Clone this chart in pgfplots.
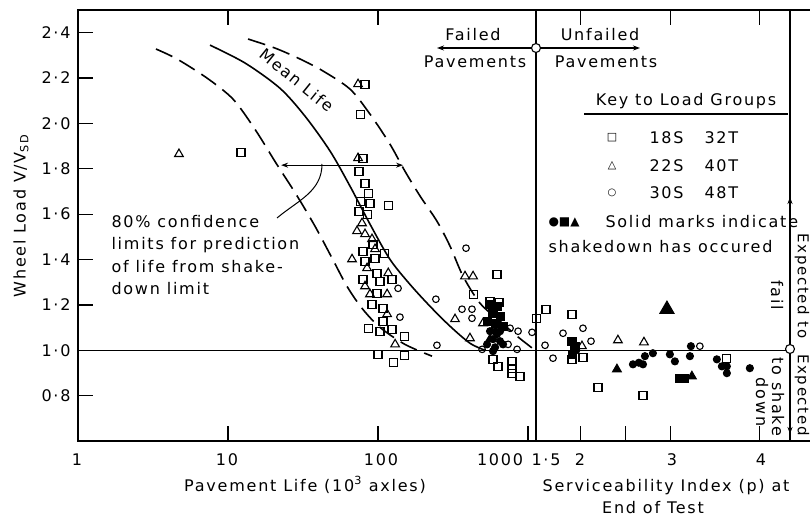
\documentclass[border=0pt]{standalone}
\usepackage{fontspec}
\setmainfont{DejaVu Sans}[LetterSpace=11]
\newfontfamily\symfont{DejaVu Sans}
\usepackage{pgfplots}
\pgfplotsset{compat=1.18}
\usetikzlibrary{arrows.meta}
\newcommand\fs{\fontsize{16bp}{19bp}\selectfont}
\newcommand\fa{\fontsize{16bp}{19bp}\selectfont}
\begin{document}
\begin{tikzpicture}[>={Stealth[length=7bp,width=5bp]}]
\useasboundingbox (0,0) rectangle (810bp,520bp);
\pgfplotsset{
  base/.style={scale only axis, anchor=south west, height=431bp, ymin=0.6, ymax=2.5,
    axis line style={line width=1.6bp}, tick align=inside, major tick length=15bp,
    tick style={line width=1.3bp, black}, clip=false},
  osq/.style={only marks, mark=square, mark size=4bp, mark options={line width=1.1bp}},
  otr/.style={only marks, mark=triangle, mark size=5bp, mark options={line width=1.1bp}},
  oci/.style={only marks, mark=o, mark size=3.3bp, mark options={line width=1.1bp}},
  fsq/.style={only marks, mark=square*, mark size=4bp, mark options={line width=1.1bp, fill=black}},
  ftr/.style={only marks, mark=triangle*, mark size=5bp, mark options={line width=1.1bp, fill=black}},
  fci/.style={only marks, mark=*, mark size=3.5bp, mark options={line width=1.1bp, fill=black}},
}
% ---------------- left axis: pavement life (log)
\begin{axis}[base, at={(78bp,79bp)}, width=458bp, xmode=log, xmin=1, xmax=1130,
  xtick={10,100,1000}, xticklabels={,,}, xminorticks=false, xtick pos=bottom,
  ytick={0.8,1,1.2,1.4,1.6,1.8,2,2.2,2.4},
  yticklabels={0·8,1·0,1·2,1·4,1·6,1·8,2·0,2·2,2·4},
  ytick pos=left, yticklabel style={font=\fs, xshift=-4bp}]
% shakedown limit
\addplot[line width=1bp, no marks] coordinates {(1,1) (1130,1)};
% 80% confidence limits and mean life
\addplot[smooth, line width=1.6bp, dash pattern=on 18bp off 8bp] coordinates {
(3.31,2.328)(4.57,2.284)(7.24,2.200)(10.8,2.107)(15.1,1.975)(20.9,1.825)(28.4,1.688)
(38.0,1.547)(49.4,1.406)(62.1,1.282)(78.2,1.185)(103,1.101)(151,1.026)(229,0.974)};
\addplot[smooth, line width=1.6bp] coordinates {
(7.59,2.345)(13.0,2.266)(22.2,2.155)(32.6,2.032)(47.9,1.878)(65.1,1.723)(88.4,1.556)
(120,1.401)(163,1.291)(222,1.194)(302,1.106)(410,1.031)(517,1.0)};
\addplot[smooth, line width=1.6bp, dash pattern=on 18bp off 8bp] coordinates {
(13.6,2.372)(20.6,2.332)(30.2,2.284)(43.0,2.231)(65.1,2.151)(88.4,2.041)(120,1.909)
(151,1.790)(191,1.679)(247,1.569)(302,1.459)(369,1.326)(479,1.207)(651,1.128)(845,1.062)(1113,1.0)};
% 18S 32T
\addplot[osq] coordinates {
(12.2,1.873)(81.9,2.173)(75.9,2.041)(79.4,1.847)(74.7,1.790)(81.9,1.737)(85.8,1.693)
(75.9,1.657)(88.4,1.648)(74.7,1.613)(84.5,1.600)(118,1.640)(92.6,1.468)(111,1.428)
(79.4,1.437)(81.9,1.393)(95.5,1.406)(98.5,1.340)(79.4,1.313)(103,1.304)(124,1.313)
(98.5,1.251)(91.2,1.203)(108,1.185)(85.8,1.097)(103,1.084)(124,1.093)(151,1.062)
(100,0.982)(126,0.947)(151,0.978)(430,1.247)(621,1.335)(584,0.960)(631,0.929)
(782,0.951)(782,0.921)(782,0.899)(884,0.885)(108,1.128)(558,1.216)(640,1.21)};
% 22S 40T
\addplot[otr] coordinates {
(4.71,1.865)(73.6,2.173)(73.6,1.847)(72.4,1.525)(81.9,1.512)(91.2,1.490)(67.1,1.401)
(84.5,1.362)(117,1.340)(81.9,1.282)(88.4,1.247)(115,1.247)(115,1.159)(130,1.026)
(380,1.326)(430,1.326)(326,1.137)(501,1.119)(410,1.053)(78.2,1.560)(95.5,1.446)};
% 30S 48T
\addplot[oci] coordinates {
(386,1.450)(136,1.273)(140,1.146)(243,1.225)(247,1.022)(363,1.181)(423,1.181)
(423,1.141)(759,1.097)(858,1.084)(1063,1.079)(845,1.004)(736,1.026)(494,1.004)};
% solid marks (shakedown occurred)
\addplot[fsq] coordinates {(558,1.203)(621,1.194)(584,1.163)(651,1.150)(533,1.128)(603,1.119)(681,1.106)};
\addplot[fci] coordinates {(558,1.084)(621,1.071)(584,1.049)(651,1.040)(533,1.026)(603,1.013)
(681,1.026)(584,0.996)(651,1.084)};
\addplot[ftr] coordinates {(603,1.084)(558,1.049)};
% top ticks
\draw[line width=1.3bp] (axis cs:10,2.5) -- ([yshift=-15bp]axis cs:10,2.5);
\draw[line width=1.3bp] (axis cs:100,2.5) -- ([yshift=-15bp]axis cs:100,2.5);
% 80% band arrow
\draw[<->, line width=1bp] (axis cs:22.6,1.816) -- (axis cs:146.8,1.816);
\end{axis}
% ---------------- right axis: serviceability index
\begin{axis}[base, at={(536bp,79bp)}, width=254bp, xmin=1.5, xmax=4.34,
  xtick={2,2.5,3,4}, xticklabels={,,,}, xtick pos=bottom, ytick=\empty]
\addplot[line width=1bp, no marks] coordinates {(1.5,1) (4.34,1)};
\addplot[osq] coordinates {(1.612,1.181)(1.51,1.141)(1.902,1.159)(1.902,0.960)(2.025,0.969)
(2.193,0.837)(2.696,0.801)(3.634,0.965)};
\addplot[oci] coordinates {(2.025,1.097)(1.802,1.075)(1.601,1.022)(2.115,1.040)(1.69,0.965)(3.332,1.018)};
\addplot[otr] coordinates {(2.014,1.018)(2.416,1.044)(2.707,1.035)};
\addplot[ftr] coordinates {(2.405,0.916)(3.243,0.885)};
\addplot[ftr, mark size=8bp] coordinates {(2.964,1.181)};
\addplot[fsq] coordinates {(1.902,1.040)(1.936,1.018)(1.913,0.982)(3.109,0.876)(3.165,0.876)};
\addplot[fci] coordinates {(2.584,0.938)(2.696,0.938)(2.807,0.987)(2.997,0.982)(3.053,0.951)
(3.221,0.974)(3.232,1.018)(3.522,0.960)(3.634,0.929)(3.634,0.899)(3.578,0.929)(3.891,0.921)
(2.718,0.974)(2.65,0.945)(1.95,1.0)};
\draw[line width=1.3bp] (axis cs:2,2.5) -- ([yshift=-15bp]axis cs:2,2.5);
\draw[line width=1.3bp] (axis cs:3,2.5) -- ([yshift=-15bp]axis cs:3,2.5);
\draw[line width=1.3bp] (axis cs:4,2.5) -- ([yshift=-15bp]axis cs:4,2.5);
\end{axis}
% ---------------- annotations (pixel coordinates)
\begin{scope}[shift={(0bp,520bp)}, x=1bp, y=-1bp, font=\fa]
\draw[line width=1.6bp] (790,10) -- (810,10);
\draw[line width=1.6bp] (790,441) -- (810,441);
% tick labels
\node[font=\fs] at (77,460) {1};
\node[font=\fs] at (227,460) {10};
\node[font=\fs] at (381,460) {100};
\node[font=\fs] at (500,460) {1000};
\node[font=\fs] at (546,460) {1·5};
\node[font=\fs] at (580,460) {2};
\node[font=\fs] at (672,460) {3};
\node[font=\fs] at (761,460) {4};
% axis titles
\node[font=\fs] at (305,485) {Pavement Life (10\textsuperscript{3} axles)};
\node[font=\fs] at (666,487) {Serviceability Index (p) at};
\node[font=\fs] at (653,508) {End of Test};
\node[font=\fs, rotate=90] at (21,216) {Wheel Load V/V\textsubscript{SD}};
% failed / unfailed
\draw[->, line width=1.1bp] (531.5,48) -- (437,48);
\draw[->, line width=1.1bp] (540.5,48) -- (640,48);
\draw[line width=1.1bp, fill=white] (536,48) circle (4.5);
\node at (473,35) {Failed};
\node at (475,62) {Pavements};
\node at (600,35) {Unfailed};
\node at (606,62) {Pavements};
% key
\node at (686,101) {Key to Load Groups};
\draw[line width=1.1bp] (584,114) -- (788,114);
\node[font=\symfont\fontsize{11bp}{12bp}\selectfont] at (612,138) {□};
\node[font=\symfont\fontsize{11bp}{12bp}\selectfont] at (612,166) {△};
\node[font=\symfont\fontsize{10bp}{12bp}\selectfont] at (612,193) {○};
\node[anchor=west] at (646,138) {18S};
\node[anchor=west] at (701,138) {32T};
\node[anchor=west] at (646,166) {22S};
\node[anchor=west] at (701,166) {40T};
\node[anchor=west] at (646,193) {30S};
\node[anchor=west] at (701,193) {48T};
\node[anchor=west, font=\symfont\fontsize{12bp}{14bp}\selectfont] at (545,222) {●■▲};
\node[anchor=west] at (602,222) {Solid marks indicate};
\node[anchor=west] at (545,247) {shakedown has occured};
% confidence text
\node[anchor=base west] at (108,228) {80\% confidence};
\node[anchor=base west] at (108,250) {limits for prediction};
\node[anchor=base west] at (108,273) {of life from shake-};
\node[anchor=base west] at (108,295) {down limit};
\draw[line width=1bp] (322,164) to[out=-90,in=40] (277,218);
\node[rotate=-39] at (297,80) {Mean Life};
% right side
\draw[->, line width=1.1bp] (790,344.5) -- (790,197);
\draw[->, line width=1.1bp] (790,353.5) -- (790,434);
\draw[line width=1.1bp, fill=white] (790,349) circle (4.5);
\node[rotate=-90, font=\fontsize{15bp}{17bp}\selectfont] at (802,286) {Expected to};
\node[rotate=-90, font=\fontsize{15bp}{17bp}\selectfont] at (802,395) {Expected};
\node[rotate=-90] at (777,295) {fail};
\node[rotate=-90] at (778,397) {to shake};
\node[rotate=-90] at (762,402) {down};
\end{scope}
\end{tikzpicture}
\end{document}
